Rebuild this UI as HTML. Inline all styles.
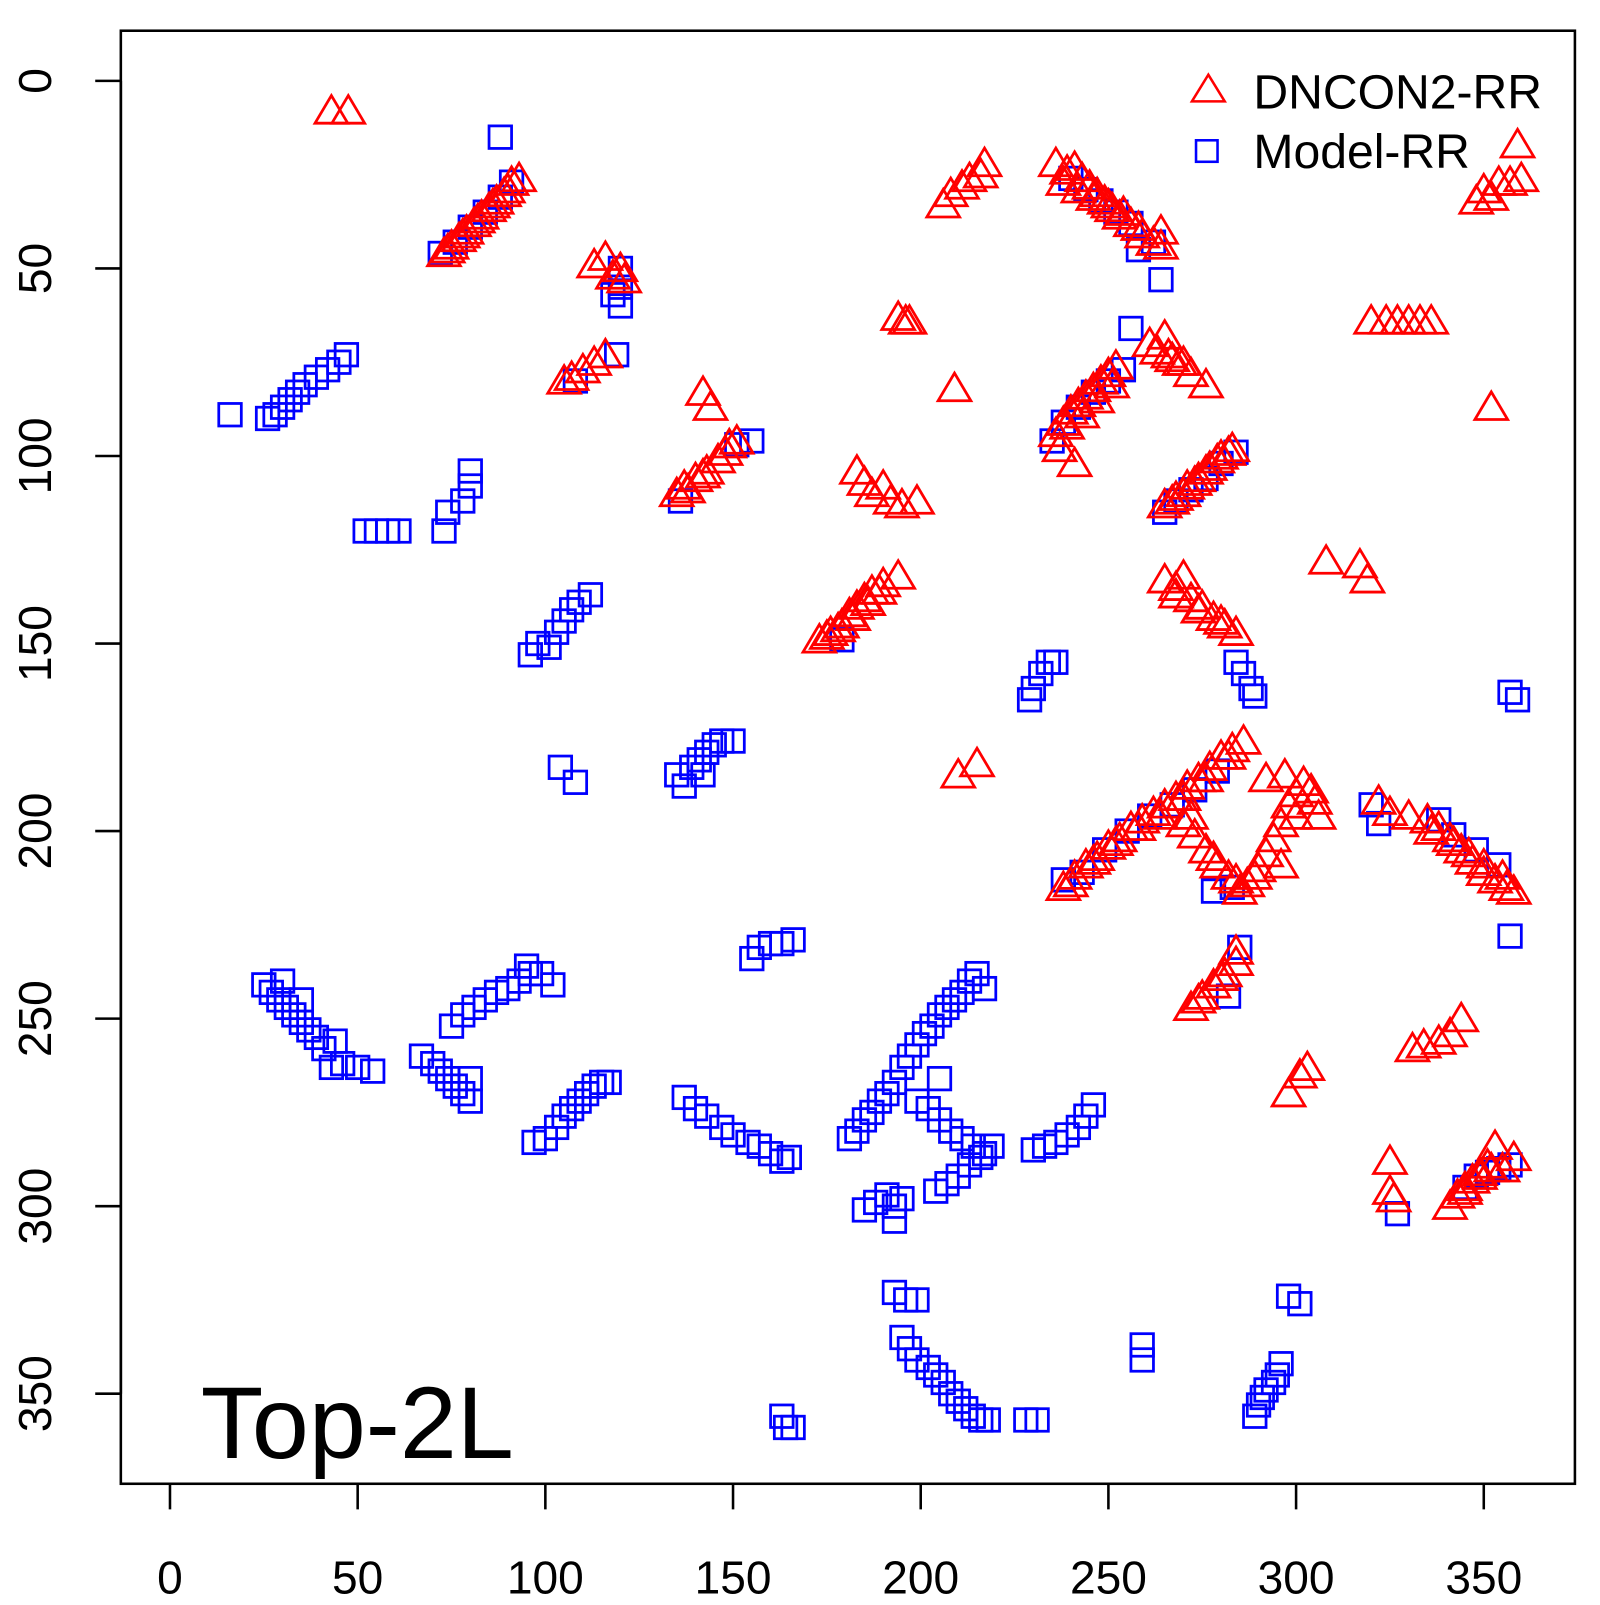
<!DOCTYPE html>
<html><head><meta charset="utf-8"><style>
body{margin:0;background:#fff}
svg text{font-family:"Liberation Sans",Arial,sans-serif;fill:#000}
</style></head><body>
<svg id="chart" width="1600" height="1600" viewBox="0 0 1600 1600" xmlns="http://www.w3.org/2000/svg">
<rect x="0" y="0" width="1600" height="1600" fill="#fff"/>
<g transform="scale(1.024)">
<rect x="118" y="30" width="1420" height="1419" fill="none" stroke="#000" stroke-width="2.5"/>
<g id="axes"></g>
<g id="marks"></g>
<g>
<polygon points="1180,73 1164,99 1196,99" fill="none" stroke="#f00" stroke-width="2.5"/>
<text x="1224" y="106" font-size="47">DNCON2-RR</text>
<rect x="1168" y="137" width="21" height="21" fill="none" stroke="#00f" stroke-width="2.5"/>
<text x="1224" y="164" font-size="47">Model-RR</text>
</g>
<text x="196" y="1424" font-size="100">Top-2L</text>
</g>
</svg>
<script>
const xTicks=[0,50,100,150,200,250,300,350];
const yTicks=[0,50,100,150,200,250,300,350];
const blueX=[16,26,28,30,32,34,36,39,42,45,47,88,72,76,80,84,88,91,120,120,120,118,119,108,151,155,80,80,78,74,73,52,55,58,61,96,98,101,103,105,107,109,112,104,108,135,137,139,141,143,145,147,150,142,229,230,232,234,236,284,286,288,289,357,359,320,322,357,285,238,256,264,265,235,179,136,25,27,29,31,33,35,37,39,30,35,43,46,50,54,41,44,75,78,81,84,87,90,93,96,99,102,95,67,70,72,74,76,78,80,80,97,100,103,105,107,109,111,113,115,117,137,140,143,147,150,154,157,160,163,165,155,157,160,163,166,181,183,185,187,189,191,193,195,197,199,201,203,205,207,209,211,213,215,217,205,199,202,205,208,211,214,217,219,204,207,210,213,216,185,188,191,193,195,193,230,233,236,239,242,244,246,348,351,354,357,345,327,289,290,291,292,294,295,296,298,301,259,259,228,231,163,164,166,193,196,199,195,197,199,202,204,206,208,210,212,214,216,218,258,
240,244,248,252,256,262,238,242,246,250,254,268,272,276,280,284,243,249,255,261,267,273,279,283,342,348,354,338,278,282];
const blueY=[89,90,89,87,85,83,81,79,77,75,73,15,46,43,39,35,31,27,50,55,60,57,73,80,97,96,104,108,112,115,120,120,120,120,120,153,150,151,147,144,141,139,137,183,187,185,188,183,181,179,177,176,176,185,165,162,158,155,155,155,158,162,164,163,165,193,198,228,231,213,66,53,115,96,149,112,241,243,245,247,249,251,253,255,240,245,263,262,263,264,258,256,252,249,247,245,243,242,240,238,238,241,236,260,262,264,266,268,270,272,266,283,282,279,276,274,272,270,268,267,267,271,274,276,279,281,283,284,286,288,287,234,231,230,230,229,282,280,277,275,272,270,267,263,260,257,254,252,249,247,245,243,240,238,242,266,272,274,277,280,282,284,286,284,296,294,292,289,287,301,299,297,300,298,304,285,284,283,281,279,276,273,292,291,290,289,295,302,356,353,351,349,347,345,342,324,326,337,341,357,357,356,359,359,323,325,325,335,338,341,343,345,347,350,352,354,356,357,357,45,
26,29,32,35,38,43,91,87,83,80,77,112,109,106,102,99,211,205,200,196,193,189,184,215,201,205,209,197,216,244];
const redX=[43,47.5,73,75,77,79,81,83,85,87,89,91,93,113,116,118,120,121,105,107,110,113,116,142,144,135,137,140,143,146,148,151,183,185,187,190,192,195,199,194,196,197,206,208,211,213,216,217,209,236,239,241,243,245,247,249,251,253,256,259,262,264,264,236,238,240,242,244,246,248,250,252,241,261,263,265,267,270,272,276,265,268,271,274,277,280,283,265,268,270,272,275,278,281,284,173,176,179,181,183,185,187,190,194,308,317,319,320,324,327,330,333,336,352,348,350,352,354,357,360,359,210,215,238,241,244,247,250,253,256,259,262,265,268,271,274,277,280,283,286,270,273,276,279,282,285,287,290,292,294,296,298,300,302,305,306,297,292,322,325,330,335,338,341,344,347,350,353,356,358,272,275,278,281,284,284,298,303,301,325,325,326,331,334,338,341,344,341,343,345,347,349,351,353,355,358,
74,78,82,86,90,138,142,149,175,178,182,186,189,238,242,246,250,254,258,237,239,243,247,251,266,269,267,270,273,276,279,282,268,274,280,240,246,252,258,264,270,276,282,272,278,284,289,296,300,304,336,342,346,350,355,274,280,345,349,352];
const redY=[8,8,46,44,42,40,38,36,34,32,30,27,26,49,47,52,50,53,80,79,77,75,73,83,87,110,108,106,104,101,99,96,104,107,110,108,112,113,112,63,64,64,33,30,28,26,25,22,82,22,24,23,26,28,30,32,34,36,38,41,43,44,40,94,91,88,86,84,82,80,78,76,102,70,72,68,74,75,78,81,113,111,108,106,103,100,98,133,135,132,138,140,143,145,147,149,147,145,142,140,138,136,134,132,128,129,133,64,64,64,64,64,64,87,32,29,31,27,27,26,17,185,182,215,212,209,207,204,202,199,197,195,193,191,188,186,183,180,178,176,198,201,205,209,212,216,214,210,206,202,198,193,190,187,192,196,185,186,192,195,196,197,199,202,205,208,211,213,215,216,247,244,241,238,235,232,270,263,265,288,296,298,258,257,256,254,250,300,297,295,293,291,289,284,290,287,
45,41,37,33,29,109,105,97,148,146,143,139,136,27,29,31,33,35,39,98,92,89,85,81,73,75,112,110,107,104,101,99,137,141,144,214,208,203,199,196,191,186,180,196,207,213,212,209,196,189,200,203,206,209,212,245,239,296,292,290];
const NS="http://www.w3.org/2000/svg";
const sx=v=>166+v*3.6657;
const sy=v=>79+v*3.663;
const axes=document.getElementById('axes');
const marks=document.getElementById('marks');
function mk(tag,attrs,parent){const e=document.createElementNS(NS,tag);for(const k in attrs)e.setAttribute(k,attrs[k]);parent.appendChild(e);return e;}
mk('line',{x1:sx(0),x2:sx(350),y1:1449,y2:1449,stroke:'#000','stroke-width':2.5},axes);
mk('line',{x1:118,x2:118,y1:sy(0),y2:sy(350),stroke:'#000','stroke-width':2.5},axes);
xTicks.forEach(t=>{
 const l=mk('line',{x1:sx(t),x2:sx(t),y1:1449,y2:1474,stroke:'#000','stroke-width':2.5},axes);
 
 
 const tx=mk('text',{x:sx(t),y:1556,'font-size':45,'text-anchor':'middle'},axes);
 tx.textContent=t;
 
 
});
yTicks.forEach(t=>{
 const l=mk('line',{x1:93,x2:118,y1:sy(t),y2:sy(t),stroke:'#000','stroke-width':2.5},axes);
 
 
 const tx=mk('text',{x:50,y:sy(t),'font-size':45,'text-anchor':'middle',transform:`rotate(-90 50 ${sy(t)})`},axes);
 tx.textContent=t;
 
 
});
blueX.forEach((v,i)=>{
 const cx=sx(v),cy=sy(blueY[i]);
 const r=mk('rect',{x:cx-11,y:cy-11,width:22,height:22,fill:'none',stroke:'#00f','stroke-width':2.7},marks);
 
 
});
redX.forEach((v,i)=>{
 const cx=sx(v),cy=sy(redY[i]);
 const p=mk('polygon',{points:`${cx},${cy-15} ${cx-16},${cy+12} ${cx+16},${cy+12}`,fill:'none',stroke:'#f00','stroke-width':2.7},marks);
 
 
});
</script>
</body></html>
